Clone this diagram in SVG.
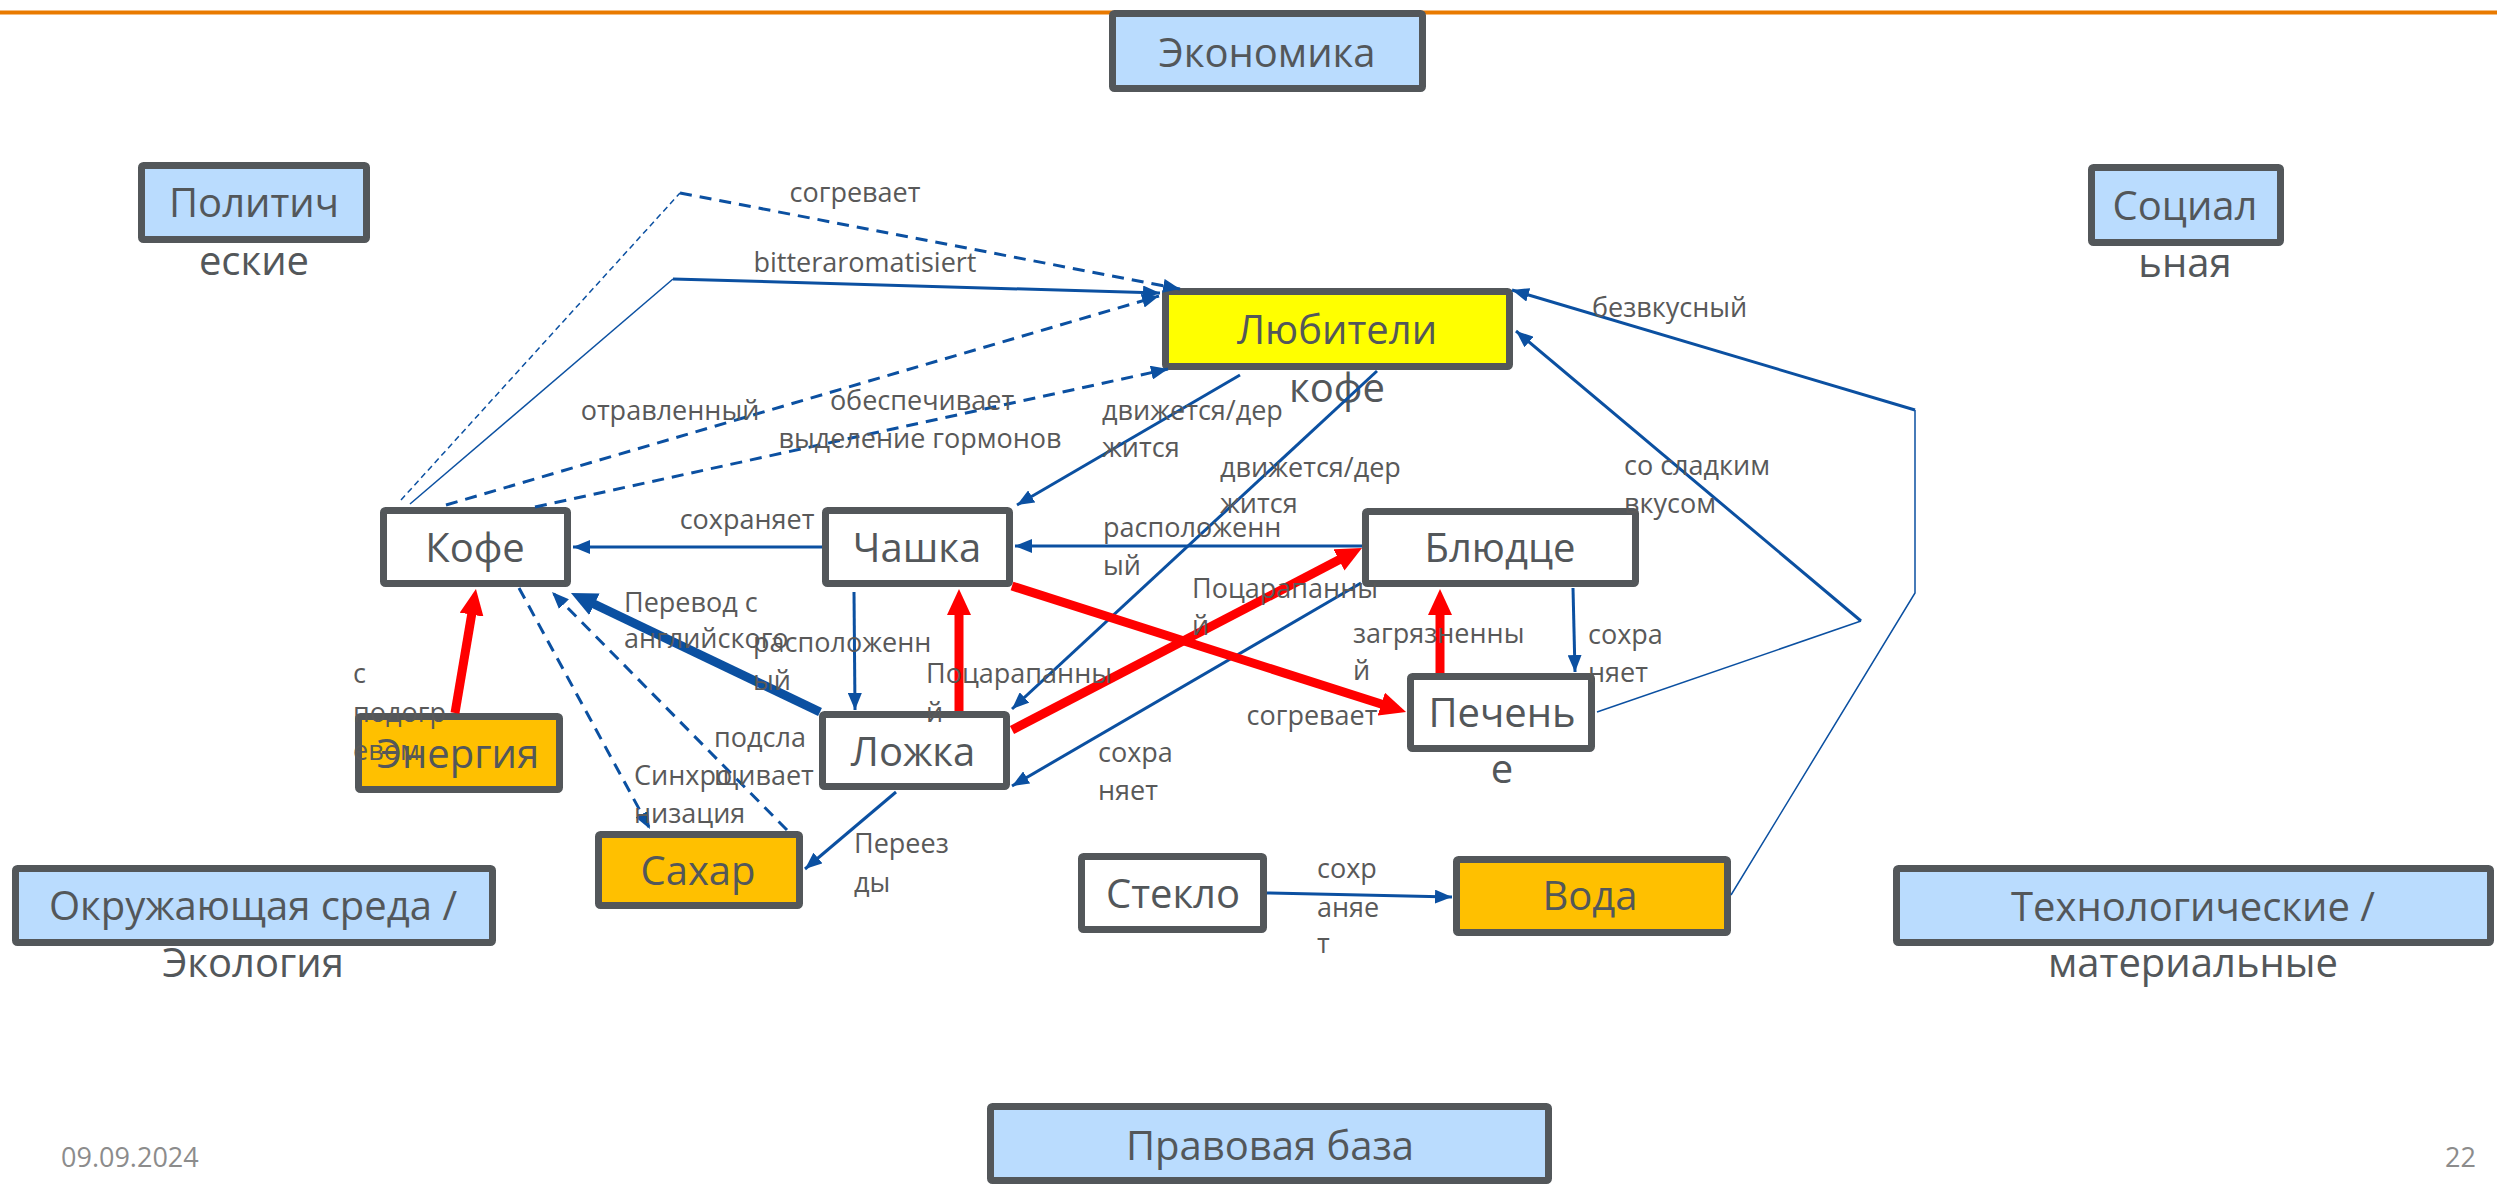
<svg xmlns="http://www.w3.org/2000/svg" width="2497" height="1185" viewBox="0 0 2497 1185">
<style>
.box{stroke:#53575A;stroke-width:7}
.env{fill:#BADCFE}
.white{fill:#FFFFFF}
.gold{fill:#FFC000}
.yel{fill:#FFFF00}
.nt{font-family:"Open Sans","Noto Sans",sans-serif;font-size:40px;fill:#53575A;text-anchor:middle}
.lb{font-family:"Open Sans","Noto Sans",sans-serif;font-size:27px;fill:#595959}
.lbc{text-anchor:middle}
.ft{font-family:"Open Sans","Noto Sans",sans-serif;font-size:27px;fill:#8C8C8C}
.bl{fill:none;stroke:#0B50A1;stroke-width:3}
.blt{fill:none;stroke:#0B50A1;stroke-width:1.5}
.bk{fill:none;stroke:#0B50A1;stroke-width:9}
.rd{fill:none;stroke:#FF0000;stroke-width:9}
.ds{stroke-dasharray:12 8}
.dt{stroke-dasharray:6 4}
</style>
<defs>
<marker id="ab" markerUnits="userSpaceOnUse" markerWidth="18" markerHeight="14" refX="17" refY="7" orient="auto"><path d="M0,0 L17,7 L0,14 z" fill="#0B50A1"/></marker>
<marker id="abk" markerUnits="userSpaceOnUse" markerWidth="28" markerHeight="24" refX="4" refY="12" orient="auto"><path d="M0,0 L26,12 L0,24 z" fill="#0B50A1"/></marker>
<marker id="ar" markerUnits="userSpaceOnUse" markerWidth="28" markerHeight="24" refX="4" refY="12" orient="auto"><path d="M0,0 L26,12 L0,24 z" fill="#FF0000"/></marker>
</defs>
<rect width="2497" height="1185" fill="#FFFFFF"/>
<line x1="0" y1="12.5" x2="2497" y2="12.5" stroke="#E97A00" stroke-width="4"/>

<g id="n-economy"><rect class="box env" x="1112.5" y="13.5" width="310" height="75" rx="2"/><text class="nt" x="1267" y="67">Экономика</text></g>
<g id="n-politics"><rect class="box env" x="141.5" y="165.5" width="225" height="74" rx="2"/><text class="nt" x="254" y="217">Политич</text><text class="nt" x="254" y="275">еские</text></g>
<g id="n-social"><rect class="box env" x="2091.5" y="167.5" width="189" height="75" rx="2"/><text class="nt" x="2185" y="220">Социал</text><text class="nt" x="2185" y="277">ьная</text></g>
<g id="n-lovers"><rect class="box yel" x="1165.5" y="291.5" width="344" height="75" rx="2"/><text class="nt" x="1337" y="344">Любители</text><text class="nt" x="1337" y="402">кофе</text></g>
<g id="n-coffee"><rect class="box white" x="383.5" y="510.5" width="184" height="73" rx="2"/><text class="nt" x="475" y="562">Кофе</text></g>
<g id="n-cup"><rect class="box white" x="825.5" y="510.5" width="184" height="73" rx="2"/><text class="nt" x="917" y="562">Чашка</text></g>
<g id="n-saucer"><rect class="box white" x="1365.5" y="511.5" width="270" height="72" rx="2"/><text class="nt" x="1500" y="562">Блюдце</text></g>
<g id="n-spoon"><rect class="box white" x="822.5" y="714.5" width="184" height="72" rx="2"/><text class="nt" x="913" y="766">Ложка</text></g>
<g id="n-cookie"><rect class="box white" x="1410.5" y="676.5" width="181" height="72" rx="2"/><text class="nt" x="1502" y="727">Печень</text><text class="nt" x="1502" y="783">е</text></g>
<g id="n-energy"><rect class="box gold" x="358.5" y="716.5" width="201" height="73" rx="2"/><text class="nt" x="458" y="768">Энергия</text></g>
<g id="n-sugar"><rect class="box gold" x="598.5" y="834.5" width="201" height="71" rx="2"/><text class="nt" x="698" y="885">Сахар</text></g>
<g id="n-glass"><rect class="box white" x="1081.5" y="856.5" width="182" height="73" rx="2"/><text class="nt" x="1173" y="908">Стекло</text></g>
<g id="n-water"><rect class="box gold" x="1456.5" y="859.5" width="271" height="73" rx="2"/><text class="nt" x="1590" y="910">Вода</text></g>
<g id="n-environment"><rect class="box env" x="15.5" y="868.5" width="477" height="74" rx="2"/><text class="nt" x="253" y="920">Окружающая среда /</text><text class="nt" x="253" y="977">Экология</text></g>
<g id="n-tech"><rect class="box env" x="1896.5" y="868.5" width="594" height="74" rx="2"/><text class="nt" x="2193" y="921">Технологические /</text><text class="nt" x="2193" y="977">материальные</text></g>
<g id="n-legal"><rect class="box env" x="990.5" y="1106.5" width="558" height="74" rx="2"/><text class="nt" x="1270" y="1160">Правовая база</text></g>

<g id="connectors">
<path class="blt dt" d="M401,500 L680,193"/>
<path class="bl ds" d="M680,193 L1180,289" marker-end="url(#ab)"/>
<path class="blt" d="M410,504 L673,279"/>
<path class="bl" d="M673,279 L1160,293" marker-end="url(#ab)"/>
<path class="bl ds" d="M446,505 L1159,296" marker-end="url(#ab)"/>
<path class="bl ds" d="M535,507 L1168,369" marker-end="url(#ab)"/>
<path class="bl" d="M1240,375 L1017,505" marker-end="url(#ab)"/>
<path class="bl" d="M1377,371 L1012,709" marker-end="url(#ab)"/>
<path class="bl" d="M822,547 L573,547" marker-end="url(#ab)"/>
<path class="bl" d="M1362,546 L1015,546" marker-end="url(#ab)"/>
<path class="bl" d="M854,592 L855,710" marker-end="url(#ab)"/>
<path class="bl" d="M1361,583 L1012,786" marker-end="url(#ab)"/>
<path class="bl" d="M896,792 L805,869" marker-end="url(#ab)"/>
<path class="bl" d="M1573,588 L1575,672" marker-end="url(#ab)"/>
<path class="bl" d="M1267,893 L1452,897" marker-end="url(#ab)"/>
<path class="bl ds" d="M519,588 L650,829" marker-end="url(#ab)"/>
<path class="bl ds" d="M787,830 L552,592" marker-end="url(#ab)"/>
<path class="blt" d="M1597,712 L1861,621"/>
<path class="bl" d="M1861,621 L1516,331" marker-end="url(#ab)"/>
<path class="blt" d="M1731,895 L1915,593 L1915,410"/>
<path class="bl" d="M1915,410 L1512,290" marker-end="url(#ab)"/>
<path class="bk" d="M820,712 L590.8,602.5" marker-end="url(#abk)"/>
<path class="rd" d="M455,713 L472.3,610.7" marker-end="url(#ar)"/>
<path class="rd" d="M959,711 L959,611" marker-end="url(#ar)"/>
<path class="rd" d="M1012,586 L1385.1,705.3" marker-end="url(#ar)"/>
<path class="rd" d="M1012,730 L1342.5,558.1" marker-end="url(#ar)"/>
<path class="rd" d="M1440,673 L1440,611" marker-end="url(#ar)"/>
</g>

<g id="labels">
<text class="lb lbc" x="855" y="202">согревает</text>
<text class="lb lbc" x="865" y="272">bitteraromatisiert</text>
<text class="lb lbc" x="670" y="420">отравленный</text>
<text class="lb lbc" x="922" y="410">обеспечивает</text>
<text class="lb lbc" x="920" y="448">выделение гормонов</text>
<text class="lb" x="1102" y="420">движется/дер</text>
<text class="lb" x="1102" y="457">жится</text>
<text class="lb" x="1220" y="477">движется/дер</text>
<text class="lb" x="1220" y="513">жится</text>
<text class="lb lbc" x="747" y="529">сохраняет</text>
<text class="lb" x="1103" y="537">расположенн</text>
<text class="lb" x="1103" y="575">ый</text>
<text class="lb" x="624" y="612">Перевод с</text>
<text class="lb" x="624" y="648">английского</text>
<text class="lb" x="753" y="652">расположенн</text>
<text class="lb" x="753" y="690">ый</text>
<text class="lb" x="926" y="683">Поцарапанны</text>
<text class="lb" x="926" y="722">й</text>
<text class="lb" x="1192" y="598">Поцарапанны</text>
<text class="lb" x="1192" y="635">й</text>
<text class="lb" x="1353" y="643">загрязненны</text>
<text class="lb" x="1353" y="680">й</text>
<text class="lb" x="1588" y="644">сохра</text>
<text class="lb" x="1588" y="682">няет</text>
<text class="lb lbc" x="1312" y="725">согревает</text>
<text class="lb" x="1098" y="762">сохра</text>
<text class="lb" x="1098" y="800">няет</text>
<text class="lb" x="353" y="683">с</text>
<text class="lb" x="353" y="722">подогр</text>
<text class="lb" x="353" y="760">евом</text>
<text class="lb" x="714" y="747">подсла</text>
<text class="lb" x="714" y="785">щивает</text>
<text class="lb" x="634" y="785">Синхро</text>
<text class="lb" x="634" y="823">низация</text>
<text class="lb" x="854" y="853">Переез</text>
<text class="lb" x="854" y="892">ды</text>
<text class="lb" x="1317" y="878">сохр</text>
<text class="lb" x="1317" y="917">аняе</text>
<text class="lb" x="1317" y="953">т</text>
<text class="lb" x="1592" y="317">безвкусный</text>
<text class="lb" x="1624" y="475">со сладким</text>
<text class="lb" x="1624" y="513">вкусом</text>
</g>

<text class="ft" x="61" y="1167">09.09.2024</text>
<text class="ft" x="2476" y="1167" text-anchor="end">22</text>
</svg>
